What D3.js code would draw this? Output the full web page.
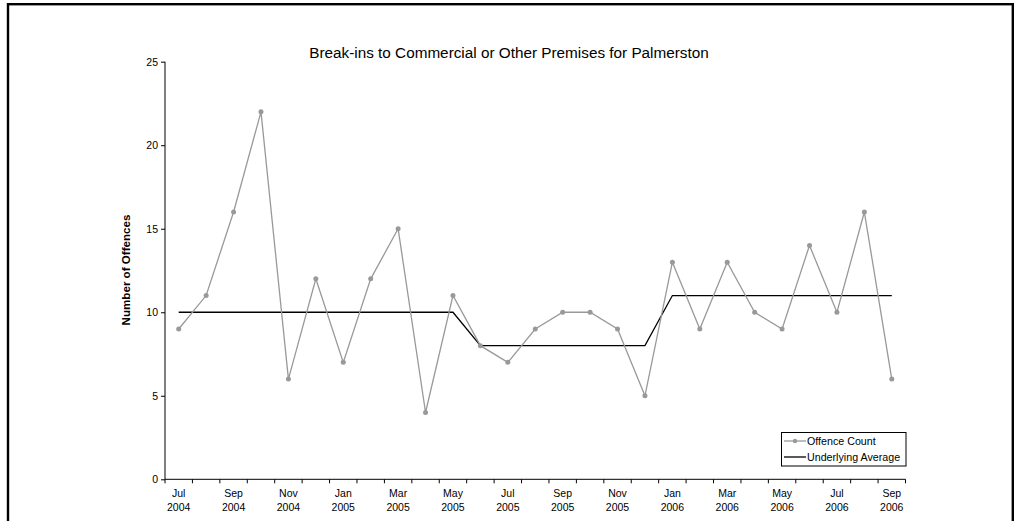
<!DOCTYPE html>
<html><head><meta charset="utf-8">
<script src="https://cdn.jsdelivr.net/npm/d3@7"></script>
<style>body{margin:0;background:#fff}svg{display:block}text{font-family:"Liberation Sans",Arial,sans-serif}</style>
</head><body>
<script>
const months = ["Jul","Aug","Sep","Oct","Nov","Dec","Jan","Feb","Mar","Apr","May","Jun","Jul","Aug","Sep","Oct","Nov","Dec","Jan","Feb","Mar","Apr","May","Jun","Jul","Aug","Sep"];
const years = [2004,2004,2004,2004,2004,2004,2005,2005,2005,2005,2005,2005,2005,2005,2005,2005,2005,2005,2006,2006,2006,2006,2006,2006,2006,2006,2006];
const offenceCount = [9,11,16,22,6,12,7,12,15,4,11,8,7,9,10,10,9,5,13,9,13,10,9,14,10,16,6];
const underlyingAverage = [10,10,10,10,10,10,10,10,10,10,10,8,8,8,8,8,8,8,11,11,11,11,11,11,11,11,11];
const yTicks = [0,5,10,15,20,25];
const title = "Break-ins to Commercial or Other Premises for Palmerston";

const W=1020,H=521;
const svg=d3.select("body").append("svg").attr("width",W).attr("height",H);
svg.append("rect").attr("x",8).attr("y",4.2).attr("width",1004.8).attr("height",530).attr("fill","none").attr("stroke","#000").attr("stroke-width",2.4);

const idx=d3.range(months.length);
const x=d3.scaleBand().domain(idx).range([165,905.5]);
const y=d3.scaleLinear().domain([0,25]).range([479.3,61.7]);
const cx=i=>x(i)+x.bandwidth()/2;

svg.append("text").attr("x",509).attr("y",57.5).attr("text-anchor","middle").attr("font-size",15.3).text(title);

// y axis
const ya=svg.append("g").attr("transform","translate(165,0)").call(d3.axisLeft(y).tickValues(yTicks).tickSize(4).tickPadding(3));
ya.select(".domain").attr("stroke","#000").attr("d","M0,"+y(25)+"V"+y(0));
ya.selectAll("text").attr("font-size",10.5).attr("fill","#000").attr("font-family","Liberation Sans, Arial, sans-serif");
svg.append("text").attr("transform","translate(130,270) rotate(-90)").attr("text-anchor","middle").attr("font-size",11.6).attr("font-weight","bold").text("Number of Offences");

// x axis
const xg=svg.append("g").attr("transform","translate(0,"+y(0)+")");
xg.append("line").attr("x1",165).attr("x2",905.5).attr("stroke","#000");
const bounds=idx.map(i=>x(i)).concat([x(idx[idx.length-1])+x.bandwidth()]);
xg.selectAll("line.tk").data(bounds).join("line").attr("class","tk").attr("x1",d=>d).attr("x2",d=>d).attr("y1",0).attr("y2",4).attr("stroke","#000");
const lab=xg.selectAll("text.lb").data(idx.filter(i=>i%2===0)).join("text").attr("class","lb").attr("x",cx).attr("text-anchor","middle").attr("font-size",10.5);
lab.append("tspan").attr("x",cx).attr("y",18).text(i=>months[i]);
lab.append("tspan").attr("x",cx).attr("y",32).text(i=>years[i]);

// average line
svg.append("path").datum(underlyingAverage).attr("fill","none").attr("stroke","#000").attr("stroke-width",1.3)
 .attr("d",d3.line().x((d,i)=>cx(i)).y(d=>y(d)));
// offence count
const grey="#999";
svg.append("path").datum(offenceCount).attr("fill","none").attr("stroke",grey).attr("stroke-width",1.3)
 .attr("d",d3.line().x((d,i)=>cx(i)).y(d=>y(d)));
svg.selectAll("circle.pt").data(offenceCount).join("circle").attr("class","pt").attr("cx",(d,i)=>cx(i)).attr("cy",d=>y(d)).attr("r",2.5).attr("fill",grey);

// legend
const lg=svg.append("g");
lg.append("rect").attr("x",781.5).attr("y",432.5).attr("width",124.5).attr("height",33.5).attr("fill","#fff").attr("stroke","#000");
lg.append("line").attr("x1",784).attr("x2",806).attr("y1",441).attr("y2",441).attr("stroke",grey).attr("stroke-width",1.3);
lg.append("circle").attr("cx",795).attr("cy",441).attr("r",2.2).attr("fill",grey);
lg.append("line").attr("x1",784).attr("x2",806).attr("y1",457).attr("y2",457).attr("stroke","#000").attr("stroke-width",1.3);
lg.append("text").attr("x",807).attr("y",444.8).attr("font-size",10.7).text("Offence Count");
lg.append("text").attr("x",807).attr("y",460.8).attr("font-size",10.7).text("Underlying Average");
</script>
</body></html>
